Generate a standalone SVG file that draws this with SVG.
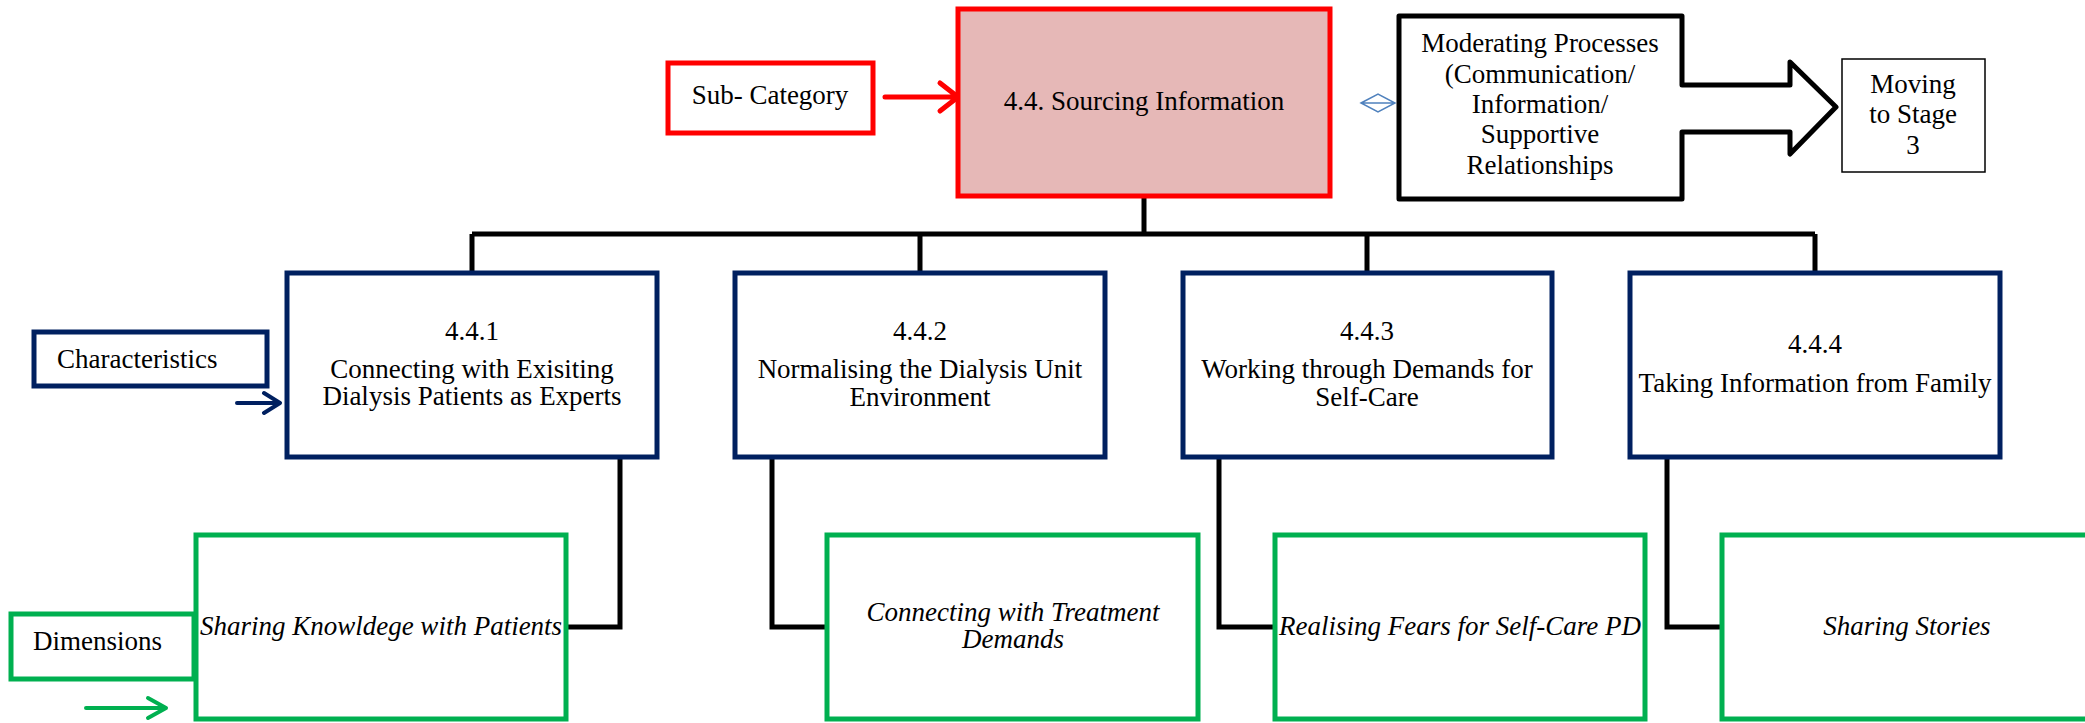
<svg xmlns="http://www.w3.org/2000/svg" width="2085" height="723" viewBox="0 0 2085 723">
<style>
text{font-size:27px;fill:#000;text-anchor:middle}
.it{font-style:italic}
.red{fill:#fff;stroke:#FF0000;stroke-width:5}
.main{fill:#E6B8B7;stroke:#FF0000;stroke-width:5}
.navy{fill:#fff;stroke:#002060;stroke-width:5}
.green{fill:#fff;stroke:#00B050;stroke-width:5}
.con{fill:none;stroke:#000;stroke-width:5}
</style>
<g id="connectors">
<path class="con" d="M1144 196V234M472 234H1815M472 234V273M920 234V273M1367 234V273M1815 234V273"/>
<path class="con" d="M620 457V627H566"/>
<path class="con" d="M772 457V627H827"/>
<path class="con" d="M1219 457V627H1275"/>
<path class="con" d="M1667 457V627H1722"/>
<path fill="none" stroke="#FF0000" stroke-width="5" stroke-linecap="round" stroke-linejoin="round" d="M885 97H958M940 83L958 97L940 111"/>
<path fill="none" stroke="#002060" stroke-width="4" stroke-linecap="round" stroke-linejoin="round" d="M237 403H280M264 393L280 403L264 413"/>
<path fill="none" stroke="#00B050" stroke-width="4" stroke-linecap="round" stroke-linejoin="round" d="M86 708H166M148 698L166 708L148 718"/>
<path fill="none" stroke="#4F81BD" stroke-width="1.5" d="M1361 103L1378 94L1395 103L1378 112ZM1361 103H1395"/>
</g>
<g font-family="'Liberation Serif', 'Times New Roman', serif">
<g id="subcategory">
<rect class="red" x="668" y="63" width="205" height="70"/>
<text x="770" y="104">Sub- Category</text>
</g>
<g id="main">
<rect class="main" x="958" y="9" width="372" height="187"/>
<text x="1144" y="110">4.4. Sourcing Information</text>
</g>
<g id="moderating">
<path fill="#fff" stroke="#000" stroke-width="5" stroke-linejoin="round" d="M1399 16H1682V85H1790V62L1836 107L1790 154V132H1682V199H1399Z"/>
<text x="1540" y="52">Moderating Processes</text>
<text x="1540" y="83">(Communication/</text>
<text x="1540" y="113">Information/</text>
<text x="1540" y="143">Supportive</text>
<text x="1540" y="174">Relationships</text>
</g>
<g id="stage3">
<rect x="1842" y="59" width="143" height="113" fill="#fff" stroke="#000" stroke-width="1.5"/>
<text x="1913" y="93">Moving</text>
<text x="1913" y="123">to Stage</text>
<text x="1913" y="154">3</text>
</g>
<g id="characteristics">
<rect class="navy" x="34" y="332" width="233" height="54"/>
<text x="57" y="368" text-anchor="start" style="text-anchor:start">Characteristics</text>
</g>
<g id="dimensions">
<rect class="green" x="11" y="614" width="183" height="65"/>
<text x="33" y="650" text-anchor="start" style="text-anchor:start">Dimensions</text>
</g>
<g id="c441">
<rect class="navy" x="287" y="273" width="370" height="184"/>
<text x="472" y="340">4.4.1</text>
<text x="472" y="378">Connecting with Exisiting</text>
<text x="472" y="405">Dialysis Patients as Experts</text>
</g>
<g id="c442">
<rect class="navy" x="735" y="273" width="370" height="184"/>
<text x="920" y="340">4.4.2</text>
<text x="920" y="378">Normalising the Dialysis Unit</text>
<text x="920" y="406">Environment</text>
</g>
<g id="c443">
<rect class="navy" x="1183" y="273" width="369" height="184"/>
<text x="1367" y="340">4.4.3</text>
<text x="1367" y="378">Working through Demands for</text>
<text x="1367" y="406">Self-Care</text>
</g>
<g id="c444">
<rect class="navy" x="1630" y="273" width="370" height="184"/>
<text x="1815" y="353">4.4.4</text>
<text x="1815" y="392">Taking Information from Family</text>
</g>
<g id="d1">
<rect class="green" x="196" y="535" width="370" height="184"/>
<text class="it" x="381" y="635">Sharing Knowldege with Patients</text>
</g>
<g id="d2">
<rect class="green" x="827" y="535" width="371" height="184"/>
<text class="it" x="1013" y="621">Connecting with Treatment</text>
<text class="it" x="1013" y="648">Demands</text>
</g>
<g id="d3">
<rect class="green" x="1275" y="535" width="370" height="184"/>
<text class="it" x="1460" y="635">Realising Fears for Self-Care PD</text>
</g>
<g id="d4">
<rect class="green" x="1722" y="535" width="370" height="184"/>
<text class="it" x="1907" y="635">Sharing Stories</text>
</g>
</g>
</svg>
